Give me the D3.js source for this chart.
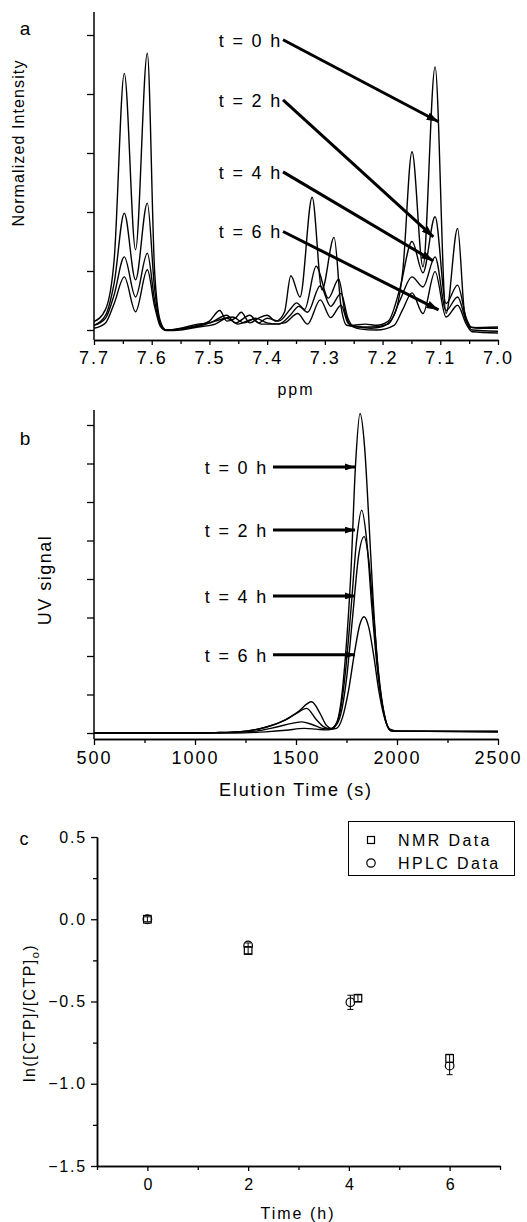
<!DOCTYPE html>
<html><head><meta charset="utf-8">
<script src="https://cdn.jsdelivr.net/npm/d3@7"></script>
<style>
html,body{margin:0;padding:0;background:#fff;}
svg{display:block;}
text{font-family:"Liberation Sans",Arial,Helvetica,sans-serif;fill:#000;}
</style></head>
<body>
<svg id="chart" width="527" height="1222"></svg>
<script>
// ---------- Panel a: NMR spectra [ppm, normalized intensity] ----------
const nmrT0 = [[7.70,0.14],[7.68,0.35],[7.665,1.2],[7.6475,4.35],[7.628,1.36],[7.6076,4.69],[7.595,1.0],[7.585,0.15],[7.575,0.0],[7.55,0.02],[7.52,0.08],[7.50,0.15],[7.482,0.33],[7.47,0.15],[7.455,0.2],[7.445,0.3],[7.43,0.12],[7.415,0.2],[7.40,0.25],[7.385,0.15],[7.37,0.3],[7.359,0.92],[7.343,0.56],[7.322,2.25],[7.305,0.68],[7.284,1.57],[7.272,0.4],[7.262,0.08],[7.24,0.05],[7.22,0.03],[7.20,0.06],[7.18,0.25],[7.165,1.0],[7.149,3.02],[7.130,1.07],[7.109,4.46],[7.090,0.28],[7.070,1.72],[7.058,0.3],[7.048,0.05],[7.03,0.03],[7.00,0.03]];
const nmrT2 = [[7.70,0.08],[7.68,0.25],[7.665,0.8],[7.6475,1.98],[7.628,0.85],[7.6076,2.15],[7.595,0.7],[7.585,0.1],[7.575,0.0],[7.55,0.03],[7.52,0.1],[7.50,0.12],[7.47,0.25],[7.455,0.12],[7.43,0.25],[7.415,0.12],[7.40,0.2],[7.38,0.15],[7.36,0.35],[7.349,0.46],[7.335,0.35],[7.315,1.08],[7.294,0.54],[7.276,0.86],[7.265,0.3],[7.255,0.08],[7.23,0.1],[7.21,0.08],[7.19,0.15],[7.17,0.7],[7.149,1.5],[7.130,0.97],[7.109,1.92],[7.090,0.45],[7.070,0.76],[7.055,0.2],[7.045,0.04],[7.00,0.05]];
const nmrT4 = [[7.70,0.08],[7.68,0.2],[7.665,0.6],[7.6475,1.24],[7.628,0.56],[7.6076,1.30],[7.595,0.5],[7.585,0.08],[7.575,0.0],[7.55,0.02],[7.52,0.06],[7.49,0.15],[7.46,0.22],[7.44,0.12],[7.42,0.2],[7.40,0.12],[7.38,0.1],[7.36,0.25],[7.345,0.4],[7.33,0.3],[7.308,0.75],[7.29,0.4],[7.272,0.62],[7.26,0.2],[7.25,0.06],[7.22,0.05],[7.19,0.1],[7.17,0.5],[7.149,0.9],[7.130,0.73],[7.109,1.24],[7.090,0.33],[7.070,0.56],[7.055,0.15],[7.045,0.0],[7.00,-0.02]];
const nmrT6 = [[7.70,0.03],[7.68,0.12],[7.665,0.45],[7.6475,0.90],[7.628,0.31],[7.6076,1.02],[7.595,0.4],[7.585,0.06],[7.575,-0.01],[7.55,0.0],[7.52,0.05],[7.49,0.1],[7.47,0.2],[7.45,0.1],[7.425,0.18],[7.41,0.1],[7.39,0.1],[7.37,0.12],[7.347,0.28],[7.33,0.1],[7.308,0.51],[7.29,0.21],[7.272,0.42],[7.26,0.12],[7.24,0.02],[7.21,0.0],[7.18,0.08],[7.165,0.35],[7.149,0.63],[7.130,0.28],[7.109,0.99],[7.090,0.22],[7.070,0.42],[7.055,0.1],[7.045,-0.03],[7.00,-0.05]];
const nmrTicks = [7.7,7.6,7.5,7.4,7.3,7.2,7.1,7.0];
const nmrMinorTicks = [7.65,7.55,7.45,7.35,7.25,7.15,7.05];
const nmrLabels = ["t = 0 h","t = 2 h","t = 4 h","t = 6 h"];
// arrow start [ppm,int] and tip [ppm,int]
const nmrArrowStart = [[7.3725,4.92],[7.3725,3.90],[7.3725,2.68],[7.3725,1.67]];
const nmrArrowTip = [[7.103,3.53],[7.112,1.58],[7.112,1.17],[7.103,0.34]];

// ---------- Panel b: HPLC traces [elution time s, UV signal] ----------
const hplcT0 = [[500,0],[1000,0],[1100,0.01],[1250,0.05],[1350,0.15],[1450,0.35],[1510,0.55],[1577,0.81],[1620,0.5],[1650,0.2],[1675,0.12],[1700,0.25],[1720,0.7],[1745,2.0],[1772,4.2],[1795,7.0],[1817,8.3],[1840,7.4],[1860,5.6],[1882,3.45],[1905,1.7],[1925,0.8],[1945,0.3],[1965,0.08],[2000,0.05],[2500,0.05]];
const hplcT2 = [[500,0],[1000,0],[1100,0.01],[1250,0.05],[1350,0.15],[1450,0.35],[1500,0.5],[1553,0.64],[1600,0.35],[1640,0.15],[1670,0.1],[1700,0.25],[1720,0.6],[1745,1.6],[1772,3.2],[1800,5.0],[1825,5.79],[1850,5.0],[1875,3.3],[1900,1.8],[1925,0.8],[1945,0.3],[1965,0.1],[2000,0.05],[2500,0.04]];
const hplcT4 = [[500,0],[1000,0],[1150,0.01],[1300,0.05],[1400,0.15],[1480,0.25],[1528,0.29],[1580,0.22],[1630,0.12],[1670,0.1],[1690,0.15],[1720,0.45],[1750,1.4],[1780,3.0],[1810,4.6],[1837,5.10],[1860,4.5],[1885,3.0],[1910,1.5],[1935,0.55],[1955,0.15],[1975,0.05],[2500,0.03]];
const hplcT6 = [[500,0],[1000,0],[1200,0.0],[1350,0.03],[1450,0.07],[1540,0.12],[1600,0.1],[1650,0.08],[1680,0.1],[1700,0.12],[1730,0.4],[1760,1.1],[1790,2.1],[1815,2.8],[1837,3.02],[1860,2.75],[1885,2.0],[1910,1.1],[1935,0.45],[1955,0.15],[1975,0.05],[2500,0.03]];
const hplcTicks = [500,1000,1500,2000,2500];
const hplcMinorTicks = [750,1250,1750,2250];
const hplcLabels = ["t = 0 h","t = 2 h","t = 4 h","t = 6 h"];
const hplcArrowStart = [[1386,6.91],[1386,5.27],[1386,3.56],[1386,2.03]];
const hplcArrowTip = [[1792,6.91],[1792,5.27],[1792,3.56],[1792,2.03]];

// ---------- Panel c: kinetics ----------
const nmrTime = [0,2,4.18,6];
const nmrLn = [0.0,-0.19,-0.48,-0.846];
const nmrErr = [0.015,0.02,0.02,0.025];
const hplcTime = [0,2,4.03,6];
const hplcLn = [0.0,-0.159,-0.505,-0.89];
const hplcErr = [0.01,0.015,0.043,0.055];
const timeTicks = [0,2,4,6];
const timeMinorTicks = [-1,1,3,5,7];
const lnTicks = [0.5,0.0,-0.5,-1.0,-1.5];
const lnMinorTicks = [0.25,-0.25,-0.75,-1.25];
const legendNames = ["NMR Data","HPLC Data"];

// ====================================================================
const svg = d3.select("#chart");
const FONT = "Liberation Sans, Arial, sans-serif";

const defs = svg.append("defs");
defs.append("marker").attr("id","headA").attr("viewBox","0 0 12 8")
  .attr("refX",12).attr("refY",4).attr("markerWidth",12).attr("markerHeight",8)
  .attr("markerUnits","userSpaceOnUse").attr("orient","auto")
  .append("path").attr("d","M0,0 L12,4 L0,8 Z").attr("fill","#000");
defs.append("marker").attr("id","headB").attr("viewBox","0 0 10 7")
  .attr("refX",10).attr("refY",3.5).attr("markerWidth",10).attr("markerHeight",7)
  .attr("markerUnits","userSpaceOnUse").attr("orient","auto")
  .append("path").attr("d","M0,0 L10,3.5 L0,7 Z").attr("fill","#000");

function styleAxis(g){
  g.select(".domain").attr("stroke","#000").attr("stroke-width",1.5);
  g.selectAll(".tick line").attr("stroke","#000").attr("stroke-width",1.3);
  g.selectAll("text").attr("font-family",FONT).attr("fill","#000");
}

// ----------------------- Panel a ------------------------------------
const xA = d3.scaleLinear().domain([7.7,7.0]).range([94,498]);
const yA = d3.scaleLinear().domain([0,5]).range([330,35]);
const axisTopA = 12, axisBotA = 340;

const gyA = svg.append("g").attr("transform","translate(94,0)")
  .call(d3.axisLeft(yA).tickValues([0,1,2,3,4,5]).tickFormat("").tickSize(7).tickSizeOuter(0));
gyA.select(".domain").attr("d",`M0,${axisTopA}V${axisBotA}`);
styleAxis(gyA);
const gxAminor = svg.append("g").attr("transform",`translate(0,${axisBotA})`)
  .call(d3.axisBottom(xA).tickValues(nmrMinorTicks).tickFormat("").tickSize(4).tickSizeOuter(0));
styleAxis(gxAminor);
const gxA = svg.append("g").attr("transform",`translate(0,${axisBotA})`)
  .call(d3.axisBottom(xA).tickValues(nmrTicks).tickFormat(d3.format(".1f")).tickSize(5).tickSizeOuter(0).tickPadding(6));
styleAxis(gxA);
gxA.selectAll("text").attr("font-size",18).style("letter-spacing","2px");

const lineA = d3.line().x(d=>xA(d[0])).y(d=>yA(d[1])).curve(d3.curveMonotoneX);
[nmrT0,nmrT2,nmrT4,nmrT6].forEach(s=>{
  svg.append("path").datum(s).attr("d",lineA).attr("fill","none")
    .attr("stroke","#000").attr("stroke-width",1.4).attr("stroke-linejoin","round");
});
nmrLabels.forEach((lab,i)=>{
  const s = nmrArrowStart[i], t = nmrArrowTip[i];
  svg.append("line").attr("x1",xA(s[0])).attr("y1",yA(s[1])).attr("x2",xA(t[0])).attr("y2",yA(t[1]))
    .attr("stroke","#000").attr("stroke-width",3).attr("marker-end","url(#headA)");
  svg.append("text").attr("x",xA(s[0])-1).attr("y",yA(s[1])+7).attr("text-anchor","end")
    .attr("font-size",18).style("letter-spacing","1.8px").text(lab);
});
svg.append("text").attr("x",25).attr("y",35).attr("text-anchor","middle").attr("font-size",19).text("a");
svg.append("text").attr("transform","translate(24,143) rotate(-90)").attr("text-anchor","middle")
  .attr("font-size",16).style("letter-spacing","1.1px").text("Normalized Intensity");
svg.append("text").attr("x",296).attr("y",395).attr("text-anchor","middle").attr("font-size",16)
  .style("letter-spacing","2px").text("ppm");

// ----------------------- Panel b ------------------------------------
const xB = d3.scaleLinear().domain([500,2500]).range([94,498]);
const yB = d3.scaleLinear().domain([0,8]).range([733,425]);
const axisTopB = 410, axisBotB = 739;
const gyB = svg.append("g").attr("transform","translate(94,0)")
  .call(d3.axisLeft(yB).tickValues(d3.range(0,9)).tickFormat("").tickSize(7).tickSizeOuter(0));
gyB.select(".domain").attr("d",`M0,${axisTopB}V${axisBotB}`);
styleAxis(gyB);
const gxBminor = svg.append("g").attr("transform",`translate(0,${axisBotB})`)
  .call(d3.axisBottom(xB).tickValues(hplcMinorTicks).tickFormat("").tickSize(4).tickSizeOuter(0));
styleAxis(gxBminor);
const gxB = svg.append("g").attr("transform",`translate(0,${axisBotB})`)
  .call(d3.axisBottom(xB).tickValues(hplcTicks).tickFormat(d3.format("d")).tickSize(6).tickSizeOuter(0).tickPadding(6));
styleAxis(gxB);
gxB.selectAll("text").attr("font-size",18).style("letter-spacing","2px");

const lineB = d3.line().x(d=>xB(d[0])).y(d=>yB(d[1])).curve(d3.curveMonotoneX);
[hplcT0,hplcT2,hplcT4,hplcT6].forEach(s=>{
  svg.append("path").datum(s).attr("d",lineB).attr("fill","none")
    .attr("stroke","#000").attr("stroke-width",1.4).attr("stroke-linejoin","round");
});
hplcLabels.forEach((lab,i)=>{
  const s = hplcArrowStart[i], t = hplcArrowTip[i];
  svg.append("line").attr("x1",xB(s[0])).attr("y1",yB(s[1])).attr("x2",xB(t[0])).attr("y2",yB(t[1]))
    .attr("stroke","#000").attr("stroke-width",3).attr("marker-end","url(#headB)");
  svg.append("text").attr("x",xB(s[0])-5).attr("y",yB(s[1])+7).attr("text-anchor","end")
    .attr("font-size",18).style("letter-spacing","1.8px").text(lab);
});
svg.append("text").attr("x",25).attr("y",445).attr("text-anchor","middle").attr("font-size",19).text("b");
svg.append("text").attr("transform","translate(51,580) rotate(-90)").attr("text-anchor","middle")
  .attr("font-size",18).style("letter-spacing","1.5px").text("UV signal");
svg.append("text").attr("x",296).attr("y",796).attr("text-anchor","middle").attr("font-size",18)
  .style("letter-spacing","1.8px").text("Elution Time (s)");

// ----------------------- Panel c ------------------------------------
const xC = d3.scaleLinear().domain([-1,7]).range([97,500]);
const yC = d3.scaleLinear().domain([-1.5,0.5]).range([1166,837]);
const gyCminor = svg.append("g").attr("transform","translate(97,0)")
  .call(d3.axisLeft(yC).tickValues(lnMinorTicks).tickFormat("").tickSize(4).tickSizeOuter(0));
styleAxis(gyCminor);
const gyC = svg.append("g").attr("transform","translate(97,0)")
  .call(d3.axisLeft(yC).tickValues(lnTicks).tickFormat(d3.format(".1f")).tickSize(6).tickSizeOuter(0).tickPadding(4));
styleAxis(gyC);
gyC.selectAll("text").attr("font-size",16).style("letter-spacing","1.8px");
const gxCminor = svg.append("g").attr("transform","translate(0,1166)")
  .call(d3.axisBottom(xC).tickValues(timeMinorTicks).tickFormat("").tickSize(4).tickSizeOuter(0));
styleAxis(gxCminor);
const gxC = svg.append("g").attr("transform","translate(0,1166)")
  .call(d3.axisBottom(xC).tickValues(timeTicks).tickFormat(d3.format("d")).tickSize(5).tickSizeOuter(0).tickPadding(8));
styleAxis(gxC);
gxC.selectAll("text").attr("font-size",16);

function errBars(times, vals, errs, capW){
  times.forEach((t,i)=>{
    const x = xC(t), y1 = yC(vals[i]-errs[i]), y2 = yC(vals[i]+errs[i]);
    svg.append("line").attr("x1",x).attr("x2",x).attr("y1",y1).attr("y2",y2).attr("stroke","#000").attr("stroke-width",1);
    [y1,y2].forEach(y=>svg.append("line").attr("x1",x-capW).attr("x2",x+capW).attr("y1",y).attr("y2",y).attr("stroke","#000").attr("stroke-width",1));
  });
}
hplcTime.forEach((t,i)=>{
  svg.append("circle").attr("cx",xC(t)).attr("cy",yC(hplcLn[i])).attr("r",4.3)
    .attr("fill","#fff").attr("stroke","#000").attr("stroke-width",1.2);
});
errBars(hplcTime,hplcLn,hplcErr,3);
nmrTime.forEach((t,i)=>{
  svg.append("rect").attr("x",xC(t)-3.8).attr("y",yC(nmrLn[i])-3.8).attr("width",7.6).attr("height",7.6)
    .attr("fill","#fff").attr("stroke","#000").attr("stroke-width",1.2);
});
errBars(nmrTime,nmrLn,nmrErr,3.8);

// legend
svg.append("rect").attr("x",348.5).attr("y",821.5).attr("width",166).attr("height",54)
  .attr("fill","#fff").attr("stroke","#000").attr("stroke-width",1);
svg.append("rect").attr("x",367.5).attr("y",836.5).attr("width",7).attr("height",7)
  .attr("fill","#fff").attr("stroke","#000").attr("stroke-width",1.2);
svg.append("circle").attr("cx",371).attr("cy",863).attr("r",4.2)
  .attr("fill","#fff").attr("stroke","#000").attr("stroke-width",1.2);
legendNames.forEach((n,i)=>{
  svg.append("text").attr("x",398).attr("y",846+i*23).attr("font-size",16)
    .style("letter-spacing","2.4px").text(n);
});

svg.append("text").attr("x",24).attr("y",845).attr("text-anchor","middle").attr("font-size",18).text("c");
const yl = svg.append("text").attr("transform","translate(35,1013) rotate(-90)").attr("text-anchor","middle")
  .attr("font-size",16).style("letter-spacing","1.4px");
yl.append("tspan").text("ln([CTP]/[CTP]");
yl.append("tspan").attr("font-size",11).attr("dy",4).text("o");
yl.append("tspan").attr("dy",-4).text(")");
svg.append("text").attr("x",298).attr("y",1219).attr("text-anchor","middle").attr("font-size",16)
  .style("letter-spacing","2px").text("Time (h)");
</script>
</body></html>
